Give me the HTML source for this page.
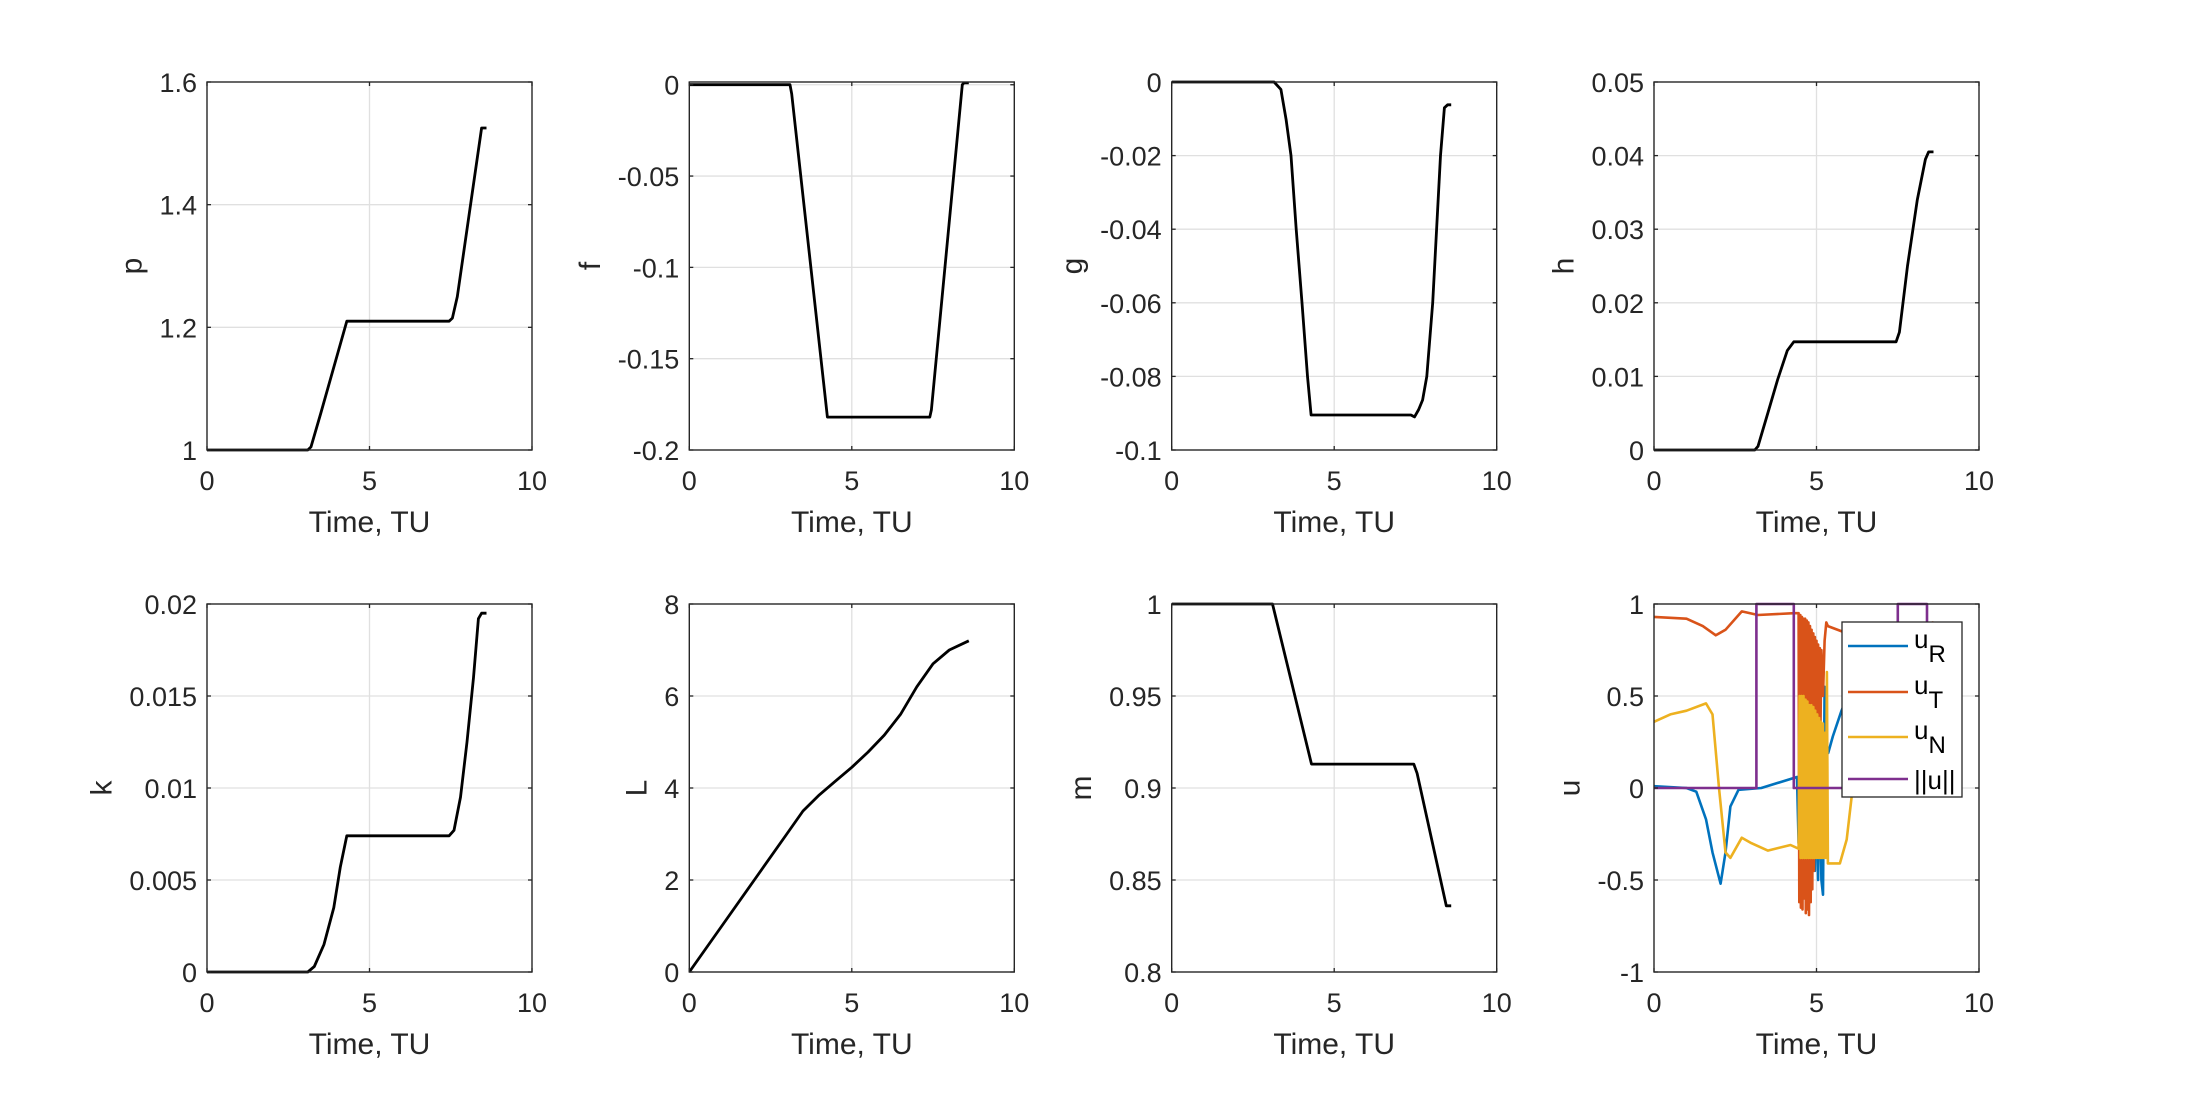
<!DOCTYPE html>
<html><head><meta charset="utf-8">
<style>
html,body{margin:0;padding:0;background:#fff;}
svg{display:block;font-family:"Liberation Sans",Arial,sans-serif;}
</style></head>
<body>
<svg id="fig" width="2187" height="1094" viewBox="0 0 2187 1094" xmlns="http://www.w3.org/2000/svg"></svg>
<script>
// ---------- data ----------
const pT=[0,3.1,3.2,3.5,4.3,7.45,7.55,7.7,8.45,8.6];
const pV=[1,1,1.005,1.06,1.21,1.21,1.215,1.25,1.525,1.525];
const fT=[0,3.1,3.15,4.25,7.4,7.45,8.4,8.45,8.6];
const fV=[0,0,-0.005,-0.182,-0.182,-0.178,0,0.001,0.001];
const gT=[0,3.15,3.36,3.52,3.67,3.83,4.01,4.18,4.29,7.36,7.47,7.6,7.72,7.85,8.03,8.15,8.27,8.39,8.49,8.6];
const gV=[0,0,-0.002,-0.0102,-0.02,-0.04,-0.06,-0.08,-0.0905,-0.0905,-0.091,-0.089,-0.0864,-0.08,-0.06,-0.04,-0.02,-0.007,-0.0062,-0.0062];
const hT=[0,3.1,3.2,3.5,3.8,4.1,4.3,7.45,7.55,7.8,8.1,8.35,8.45,8.6];
const hV=[0,0,0.0005,0.005,0.0095,0.0135,0.0147,0.0147,0.016,0.025,0.034,0.0395,0.0405,0.0405];
const kT=[0,3.1,3.3,3.6,3.9,4.1,4.3,7.45,7.6,7.8,8.0,8.2,8.35,8.45,8.6];
const kV=[0,0,0.0003,0.0015,0.0035,0.0057,0.0074,0.0074,0.0077,0.0095,0.0125,0.016,0.0192,0.0195,0.0195];
const LT=[0,1,2,3,3.5,4,4.5,5,5.5,6,6.5,7,7.5,8,8.6];
const LV=[0,1.0,2.0,3.0,3.5,3.85,4.15,4.45,4.78,5.15,5.6,6.2,6.7,7.0,7.2];
const mT=[0,3.1,4.3,7.45,7.55,8.45,8.6];
const mV=[1,1,0.913,0.913,0.908,0.836,0.836];
const uRT=[0,1.0,1.3,1.6,1.8,2.05,2.2,2.35,2.6,3.3,4.4,4.45,4.5,4.55,4.6,4.65,4.7,4.75,4.8,4.85,4.9,4.95,5.0,5.05,5.1,5.15,5.2,5.25,5.3,5.36,5.5,5.77,6.2,7,8,8.6];
const uRV=[0.01,0,-0.02,-0.17,-0.35,-0.52,-0.35,-0.1,-0.01,0,0.06,-0.3,0.05,-0.35,0.05,-0.4,0.05,-0.4,0.05,-0.45,0.05,-0.45,0.05,-0.5,0.1,-0.5,-0.58,0.55,0.2,0.19,0.28,0.42,0.6,0.7,0.75,0.75];
const uTT=[0,1,1.5,1.9,2.2,2.7,3.2,4.3,4.45,4.47,4.5,4.52,4.55,4.57,4.6,4.62,4.65,4.67,4.7,4.72,4.75,4.77,4.8,4.82,4.85,4.87,4.9,4.92,4.95,4.97,5.0,5.02,5.05,5.07,5.1,5.12,5.15,5.2,5.25,5.3,5.35,5.8,7,8,8.6];
const uTV=[0.93,0.92,0.88,0.83,0.86,0.96,0.94,0.95,0.95,-0.62,0.94,-0.65,0.93,-0.66,0.92,-0.6,0.92,-0.68,0.91,-0.66,0.9,-0.69,0.88,-0.62,0.86,-0.55,0.84,-0.45,0.82,-0.35,0.8,-0.3,0.78,0.1,0.76,0.3,0.75,0.5,0.8,0.9,0.88,0.85,0.8,0.88,0.9];
const uNT=[0,0.5,1,1.6,1.8,2.0,2.2,2.35,2.7,3.0,3.5,4.2,4.45,4.48,4.51,4.54,4.57,4.6,4.63,4.66,4.69,4.72,4.75,4.78,4.81,4.84,4.87,4.9,4.93,4.96,4.99,5.02,5.05,5.08,5.11,5.14,5.17,5.2,5.23,5.26,5.29,5.32,5.35,5.5,5.72,5.93,6.08,6.5,7.5,8.6];
const uNV=[0.36,0.4,0.42,0.46,0.4,0,-0.35,-0.38,-0.27,-0.3,-0.34,-0.31,-0.33,0.5,-0.38,0.5,-0.38,0.5,-0.38,0.48,-0.38,0.47,-0.38,0.45,-0.38,0.45,-0.38,0.44,-0.38,0.42,-0.38,0.4,-0.38,0.38,-0.38,0.36,-0.38,0.35,-0.38,0.3,-0.38,0.63,-0.41,-0.41,-0.41,-0.28,-0.05,0.3,0.5,0.6];
const uMT=[0,3.15,3.15,4.3,4.3,7.5,7.5,8.4,8.4,8.6];
const uMV=[0,0,1,1,0,0,1,1,0,0];
const xTicks=[0,5,10];
const xTickLabels=["0","5","10"];

// ---------- layout ----------
const NS="http://www.w3.org/2000/svg";
const svg=document.getElementById('fig');
const LEFTS=[207,689.3,1171.7,1654], TOPS=[82,604], W=325, H=368;
function el(tag,attrs,parent){const e=document.createElementNS(NS,tag);for(const k in attrs)e.setAttribute(k,attrs[k]);(parent||svg).appendChild(e);return e;}
function textWidth(s,size){let w=0;for(const c of s){w+=(c==='.'?0.278:(c==='-'?0.333:0.556));}return w*size;}

const panels=[
 {name:'p',ylab:'p',ymin:1,ymax:1.6,yt:[1,1.2,1.4,1.6],ytl:["1","1.2","1.4","1.6"],series:[[pT,pV,'#000']]},
 {name:'f',ylab:'f',ymin:-0.2,ymax:0.0015,yt:[-0.2,-0.15,-0.1,-0.05,0],ytl:["-0.2","-0.15","-0.1","-0.05","0"],series:[[fT,fV,'#000']]},
 {name:'g',ylab:'g',ymin:-0.1,ymax:0,yt:[-0.1,-0.08,-0.06,-0.04,-0.02,0],ytl:["-0.1","-0.08","-0.06","-0.04","-0.02","0"],series:[[gT,gV,'#000']]},
 {name:'h',ylab:'h',ymin:0,ymax:0.05,yt:[0,0.01,0.02,0.03,0.04,0.05],ytl:["0","0.01","0.02","0.03","0.04","0.05"],series:[[hT,hV,'#000']]},
 {name:'k',ylab:'k',ymin:0,ymax:0.02,yt:[0,0.005,0.01,0.015,0.02],ytl:["0","0.005","0.01","0.015","0.02"],series:[[kT,kV,'#000']]},
 {name:'L',ylab:'L',ymin:0,ymax:8,yt:[0,2,4,6,8],ytl:["0","2","4","6","8"],series:[[LT,LV,'#000']]},
 {name:'m',ylab:'m',ymin:0.8,ymax:1,yt:[0.8,0.85,0.9,0.95,1],ytl:["0.8","0.85","0.9","0.95","1"],series:[[mT,mV,'#000']]},
 {name:'u',ylab:'u',ymin:-1,ymax:1,yt:[-1,-0.5,0,0.5,1],ytl:["-1","-0.5","0","0.5","1"],series:[[uRT,uRV,'#0072BD'],[uTT,uTV,'#D95319'],[uNT,uNV,'#EDB120'],[uMT,uMV,'#7E2F8E']]}
];
const TXT='#262626', TICK=27, LAB=30;

panels.forEach((P,i)=>{
  const L=LEFTS[i%4], T=TOPS[Math.floor(i/4)];
  const xs=t=>L+t/10*W;
  const ys=v=>T+H-(v-P.ymin)/(P.ymax-P.ymin)*H;
  const g=el('g',{});
  
  
  el('rect',{x:L,y:T,width:W,height:H,fill:'#fff'},g);
  // grid
  xTicks.forEach(t=>{if(t>0&&t<10){const l=el('line',{x1:xs(t),x2:xs(t),y1:T,y2:T+H,stroke:'#e0e0e0','stroke-width':1.3},g);}});
  P.yt.forEach(v=>{const y=ys(v);if(y>T+1&&y<T+H-1){const l=el('line',{x1:L,x2:L+W,y1:y,y2:y,stroke:'#e0e0e0','stroke-width':1.3},g);}});
  // series
  const cp=el('clipPath',{id:'cp'+i},g);el('rect',{x:L,y:T-2,width:W,height:H+4},cp);
  P.series.forEach((s,si)=>{
    const d=s[0].map((t,j)=>(j?'L':'M')+xs(t).toFixed(1)+','+ys(s[1][j]).toFixed(1)).join('');
    const pth=el('path',{d:d,fill:'none',stroke:s[2],'stroke-width':P.name==='u'?2.6:2.8,'stroke-linejoin':'round','clip-path':'url(#cp'+i+')'},g);
    
    
  });
  // box + ticks
  el('rect',{x:L,y:T,width:W,height:H,fill:'none',stroke:TXT,'stroke-width':1.4},g);
  xTicks.forEach((t,j)=>{
    el('line',{x1:xs(t),x2:xs(t),y1:T+H,y2:T+H-4,stroke:TXT,'stroke-width':1.3},g);
    el('line',{x1:xs(t),x2:xs(t),y1:T,y2:T+4,stroke:TXT,'stroke-width':1.3},g);
    const tx=el('text',{x:xs(t),y:T+H+40,'font-size':TICK,fill:TXT,'text-anchor':'middle'},g);
    tx.textContent=xTickLabels[j];
    
    
  });
  let maxw=0;
  P.yt.forEach((v,j)=>{
    const y=ys(v);
    el('line',{x1:L,x2:L+4,y1:y,y2:y,stroke:TXT,'stroke-width':1.3},g);
    el('line',{x1:L+W,x2:L+W-4,y1:y,y2:y,stroke:TXT,'stroke-width':1.3},g);
    const tx=el('text',{x:L-10,y:y+10,'font-size':TICK,fill:TXT,'text-anchor':'end'},g);
    tx.textContent=P.ytl[j];
    
    
    maxw=Math.max(maxw,textWidth(P.ytl[j],TICK));
  });
  const xl=el('text',{x:L+W/2,y:T+H+82,'font-size':LAB,fill:TXT,'text-anchor':'middle'},g);
  xl.textContent='Time, TU';
  
  
  const yx=L-10-maxw-18, yy=T+H/2;
  const yl=el('text',{x:yx,y:yy,'font-size':LAB,fill:TXT,'text-anchor':'middle',transform:'rotate(-90 '+yx+' '+yy+')'},g);
  yl.textContent=P.ylab;
  
  
});

// legend for u panel
const legNames=[['u','R'],['u','T'],['u','N'],['||u||','']];
const legCols=['#0072BD','#D95319','#EDB120','#7E2F8E'];
const lg=el('g',{});


el('rect',{x:1842,y:622,width:120,height:175,fill:'#fff',stroke:TXT,'stroke-width':1.3},lg);
const legY=[646,692,737,779];
legNames.forEach((n,j)=>{
  const y=legY[j];
  el('line',{x1:1848,x2:1908,y1:y,y2:y,stroke:legCols[j],'stroke-width':2.6},lg);
  const t=el('text',{x:1914,y:y+(n[1]?2:10),'font-size':26,fill:'#000'},lg);
  
  
  t.appendChild(document.createTextNode(n[0]));
  if(n[1]){const s=document.createElementNS(NS,'tspan');s.setAttribute('font-size','24');s.setAttribute('dy','14');s.textContent=n[1];t.appendChild(s);}
});
</script>
</body></html>
